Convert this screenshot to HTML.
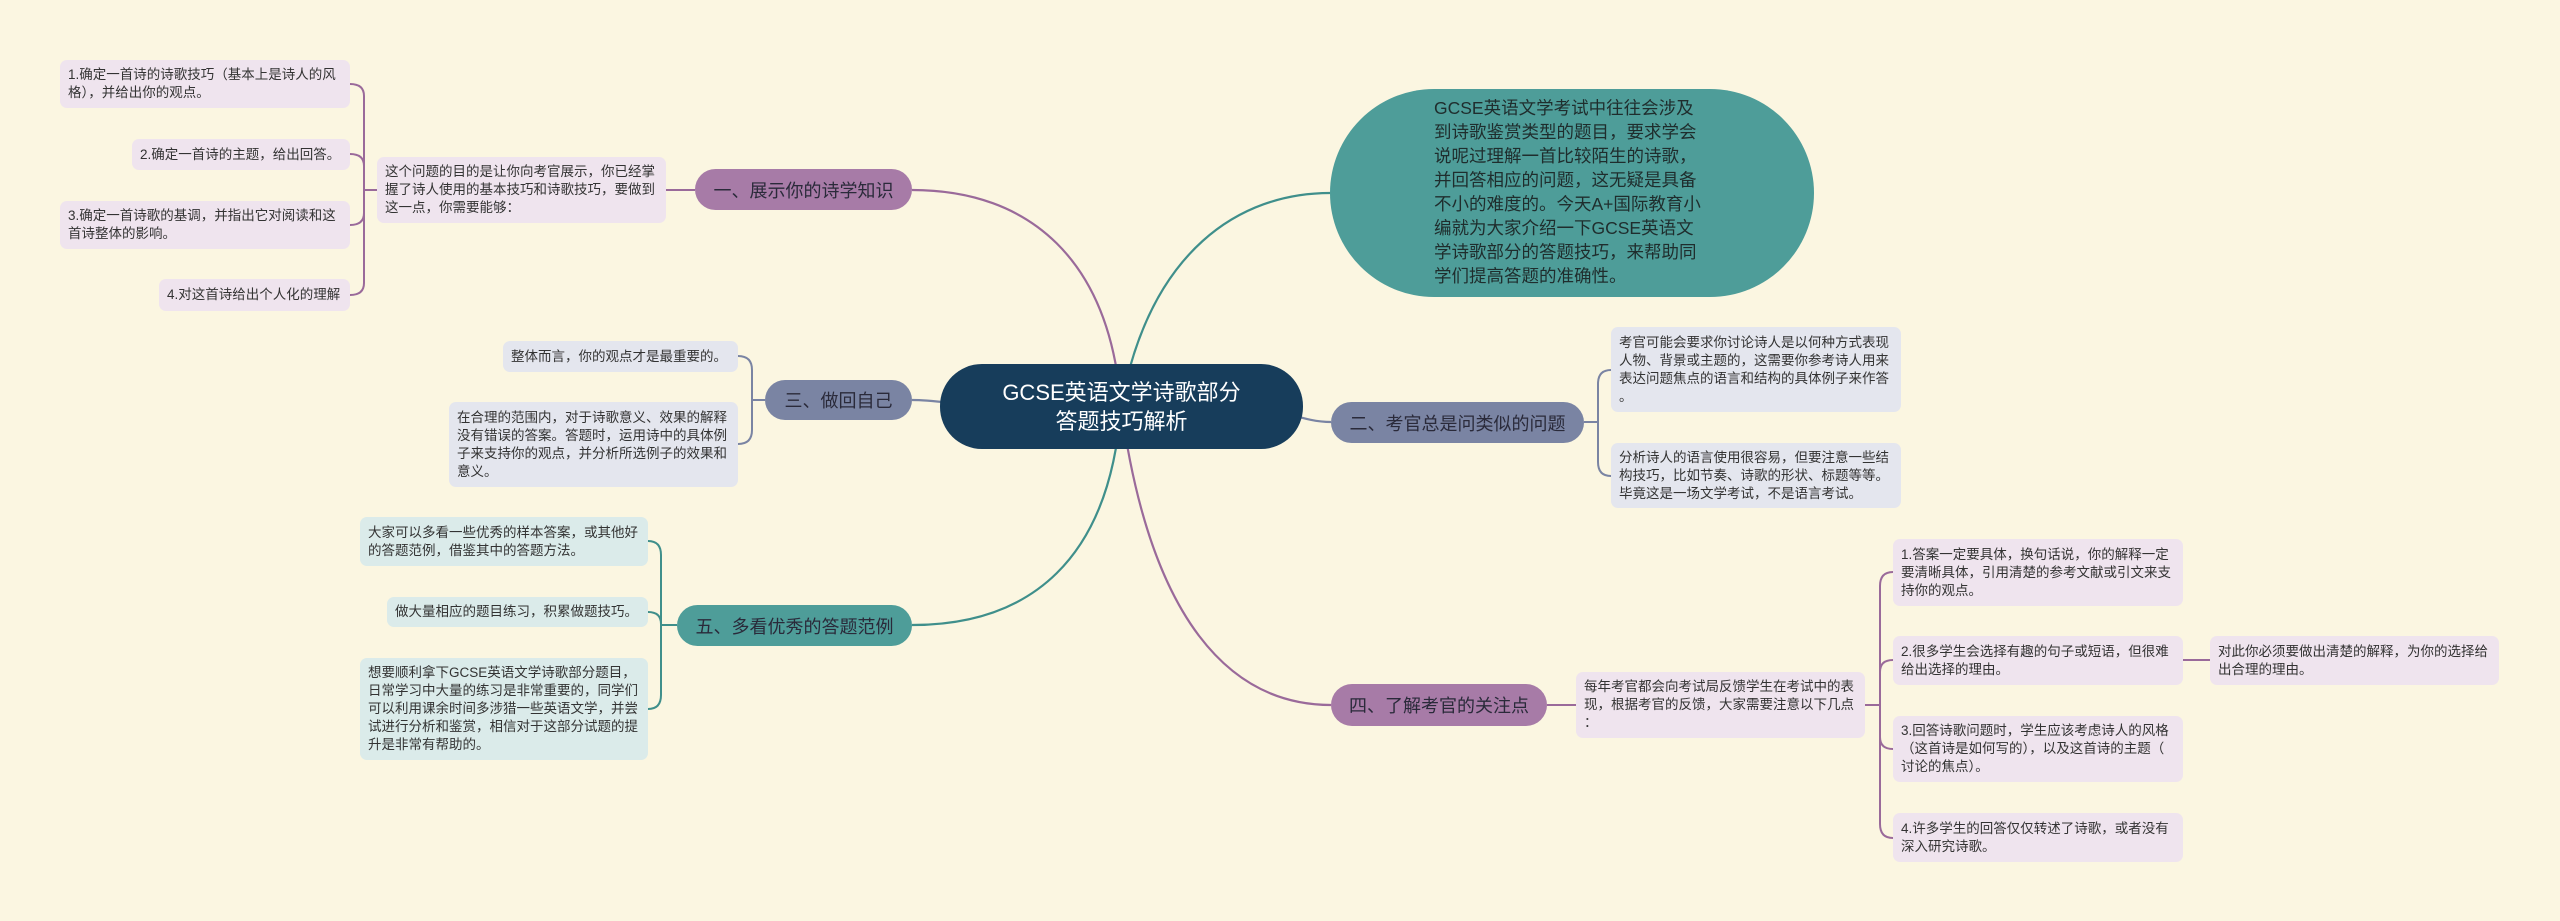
<!DOCTYPE html>
<html><head><meta charset="utf-8">
<style>
body{margin:0;width:2560px;height:921px;background:#fbf6e1;position:relative;overflow:hidden;font-family:"Liberation Sans","Noto Sans CJK SC",sans-serif;}
.b{position:absolute;box-sizing:border-box;border-radius:7px;padding:0 8px;font-size:13.5px;line-height:18px;color:#333;white-space:nowrap;display:flex;flex-direction:column;justify-content:center;}
.p{background:#efe4ee;}
.g{background:#e4e6ee;}
.t{background:#dbebea;}
.n{position:absolute;box-sizing:border-box;border-radius:21px;font-size:18px;color:#2a2a3a;display:flex;align-items:center;justify-content:center;white-space:nowrap;}
svg{position:absolute;left:0;top:0;}
</style></head><body>
<svg width="2560" height="921" fill="none" stroke-width="2.2">
<path d="M1121 406 C1110 260,1030 190,912 190" stroke="#9a6a9a"/>
<path d="M1000 406 C960 406,940 400,912 400" stroke="#7a84a3"/>
<path d="M1121 406 C1110 560,1030 625,912 625" stroke="#3f8f8b"/>
<path d="M1121 406 C1150 250,1240 193,1330 193" stroke="#3f8f8b"/>
<path d="M1240 406 C1280 406,1300 422,1331 422" stroke="#7a84a3"/>
<path d="M1121 406 C1150 620,1230 705,1331 705" stroke="#9a6a9a"/>
<g stroke="#9a6a9a" stroke-width="2">
<path d="M695 190 L666 190"/>
<path d="M377 190 L364 190"/>
<path d="M350 84 Q364 84 364 96 L364 283 Q364 295 350 295"/>
<path d="M350 154 Q364 154 364 166"/>
<path d="M350 225 Q364 225 364 213"/>
</g>
<g stroke="#7a84a3" stroke-width="2">
<path d="M765 400 L752 400"/>
<path d="M738 356 Q752 356 752 370 L752 430 Q752 444 738 444"/>
</g>
<g stroke="#3f8f8b" stroke-width="2">
<path d="M677 625 L661 625"/>
<path d="M648 541 Q661 541 661 555 L661 695 Q661 709 648 709"/>
<path d="M648 612 Q661 612 661 624"/>
</g>
<g stroke="#7a84a3" stroke-width="2">
<path d="M1584 422 L1598 422"/>
<path d="M1611 370 Q1598 370 1598 384 L1598 462 Q1598 476 1611 476"/>
</g>
<g stroke="#9a6a9a" stroke-width="2">
<path d="M1547 705 L1576 705"/>
<path d="M1865 705 L1880 705"/>
<path d="M1893 572 Q1880 572 1880 586 L1880 824 Q1880 838 1893 838"/>
<path d="M1893 660 Q1880 660 1880 672"/>
<path d="M1893 749 Q1880 749 1880 737"/>
<path d="M2183 660 L2210 660"/>
</g>
</svg>

<div class="n" style="left:940px;top:364px;width:363px;height:85px;border-radius:42px;background:#173d5b;color:#fff;font-size:22px;line-height:29px;flex-direction:column;text-align:center;">GCSE英语文学诗歌部分<br>答题技巧解析</div>

<div style="position:absolute;left:1330px;top:89px;width:484px;height:208px;border-radius:104px;background:#4e9d99;"></div>
<div style="position:absolute;left:1434px;top:96px;font-size:17.5px;line-height:24px;color:#1f2d2d;white-space:nowrap;">GCSE英语文学考试中往往会涉及<br>到诗歌鉴赏类型的题目，要求学会<br>说呢过理解一首比较陌生的诗歌，<br>并回答相应的问题，这无疑是具备<br>不小的难度的。今天A+国际教育小<br>编就为大家介绍一下GCSE英语文<br>学诗歌部分的答题技巧，来帮助同<br>学们提高答题的准确性。</div>

<div class="n" style="left:695px;top:169px;width:217px;height:41px;background:#a77ba7;">一、展示你的诗学知识</div>
<div class="b p" style="left:377px;top:157px;width:289px;height:66px;">这个问题的目的是让你向考官展示，你已经掌<br>握了诗人使用的基本技巧和诗歌技巧，要做到<br>这一点，你需要能够：</div>
<div class="b p" style="left:60px;top:60px;width:290px;height:48px;">1.确定一首诗的诗歌技巧（基本上是诗人的风<br>格），并给出你的观点。</div>
<div class="b p" style="left:132px;top:139px;width:218px;height:31px;">2.确定一首诗的主题，给出回答。</div>
<div class="b p" style="left:60px;top:201px;width:290px;height:48px;">3.确定一首诗歌的基调，并指出它对阅读和这<br>首诗整体的影响。</div>
<div class="b p" style="left:159px;top:279px;width:191px;height:32px;">4.对这首诗给出个人化的理解</div>

<div class="n" style="left:765px;top:380px;width:147px;height:40px;background:#7a84a3;">三、做回自己</div>
<div class="b g" style="left:503px;top:341px;width:235px;height:31px;">整体而言，你的观点才是最重要的。</div>
<div class="b g" style="left:449px;top:402px;width:289px;height:85px;">在合理的范围内，对于诗歌意义、效果的解释<br>没有错误的答案。答题时，运用诗中的具体例<br>子来支持你的观点，并分析所选例子的效果和<br>意义。</div>

<div class="n" style="left:677px;top:605px;width:235px;height:41px;background:#4e9d99;">五、多看优秀的答题范例</div>
<div class="b t" style="left:360px;top:517px;width:288px;height:49px;">大家可以多看一些优秀的样本答案，或其他好<br>的答题范例，借鉴其中的答题方法。</div>
<div class="b t" style="left:387px;top:597px;width:261px;height:30px;">做大量相应的题目练习，积累做题技巧。</div>
<div class="b t" style="left:360px;top:658px;width:288px;height:102px;">想要顺利拿下GCSE英语文学诗歌部分题目，<br>日常学习中大量的练习是非常重要的，同学们<br>可以利用课余时间多涉猎一些英语文学，并尝<br>试进行分析和鉴赏，相信对于这部分试题的提<br>升是非常有帮助的。</div>

<div class="n" style="left:1331px;top:402px;width:253px;height:41px;background:#7a84a3;">二、考官总是问类似的问题</div>
<div class="b g" style="left:1611px;top:327px;width:290px;height:85px;">考官可能会要求你讨论诗人是以何种方式表现<br>人物、背景或主题的，这需要你参考诗人用来<br>表达问题焦点的语言和结构的具体例子来作答<br>。</div>
<div class="b g" style="left:1611px;top:443px;width:290px;height:65px;">分析诗人的语言使用很容易，但要注意一些结<br>构技巧，比如节奏、诗歌的形状、标题等等。<br>毕竟这是一场文学考试，不是语言考试。</div>

<div class="n" style="left:1331px;top:684px;width:216px;height:42px;background:#a77ba7;">四、了解考官的关注点</div>
<div class="b p" style="left:1576px;top:672px;width:289px;height:66px;">每年考官都会向考试局反馈学生在考试中的表<br>现，根据考官的反馈，大家需要注意以下几点<br>：</div>
<div class="b p" style="left:1893px;top:539px;width:290px;height:67px;">1.答案一定要具体，换句话说，你的解释一定<br>要清晰具体，引用清楚的参考文献或引文来支<br>持你的观点。</div>
<div class="b p" style="left:1893px;top:636px;width:290px;height:49px;">2.很多学生会选择有趣的句子或短语，但很难<br>给出选择的理由。</div>
<div class="b p" style="left:2210px;top:636px;width:289px;height:49px;">对此你必须要做出清楚的解释，为你的选择给<br>出合理的理由。</div>
<div class="b p" style="left:1893px;top:716px;width:290px;height:66px;">3.回答诗歌问题时，学生应该考虑诗人的风格<br>（这首诗是如何写的），以及这首诗的主题（<br>讨论的焦点）。</div>
<div class="b p" style="left:1893px;top:813px;width:290px;height:49px;">4.许多学生的回答仅仅转述了诗歌，或者没有<br>深入研究诗歌。</div>
</body></html>
